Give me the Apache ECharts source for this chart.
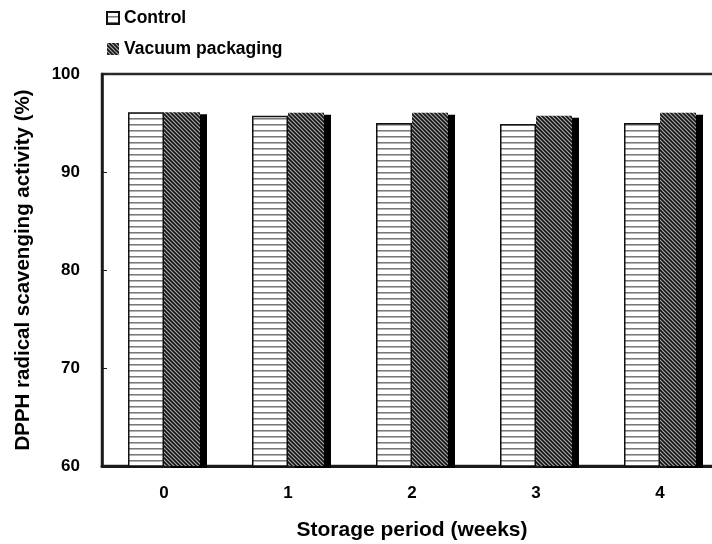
<!DOCTYPE html>
<html>
<head>
<meta charset="utf-8">
<script src="https://cdn.jsdelivr.net/npm/echarts@6/dist/echarts.min.js"></script>
<style>html,body{margin:0;padding:0;background:#fff;}#c{width:712px;height:544px;}</style>
</head>
<body>
<div id="c"></div>
<script>
var categories = ['0', '1', '2', '3', '4'];
var controlValues = [96.1, 95.75, 95.0, 94.9, 95.0];
var vacuumValues = [96.1, 96.05, 96.05, 95.75, 96.05];
var seriesNames = ['Control', 'Vacuum packaging'];
var yTicks = { min: 60, max: 100, interval: 10 };
var xTitle = 'Storage period (weeks)';
var yTitle = 'DPPH radical scavenging activity (%)';

function makeHorizontalPattern() {
  var c = document.createElement('canvas');
  c.width = 6; c.height = 6;
  var g = c.getContext('2d');
  g.fillStyle = '#ffffff'; g.fillRect(0, 0, 6, 6);
  g.fillStyle = '#7a7a7a'; g.fillRect(0, 4, 6, 1);
  g.fillStyle = '#b5b5b5'; g.fillRect(0, 5, 6, 1);
  return { image: c, repeat: 'repeat' };
}
function makeDiagonalPattern() {
  var c = document.createElement('canvas');
  c.width = 4; c.height = 4;
  var g = c.getContext('2d');
  g.fillStyle = '#444444'; g.fillRect(0, 0, 4, 4);
  g.fillStyle = '#a0a0a0';
  for (var i = 0; i < 4; i++) g.fillRect(i, i, 1, 1);
  g.fillStyle = '#111111';
  for (var j = 0; j < 4; j++) g.fillRect((j + 2) % 4, j, 1, 1);
  return { image: c, repeat: 'repeat' };
}

var chart = echarts.init(document.getElementById('c'), null, { renderer: 'canvas' });
var font = 'Liberation Sans, Arial, sans-serif';
chart.setOption({
  animation: false,
  backgroundColor: '#ffffff',
  textStyle: { fontFamily: font },
  legend: {
    orient: 'vertical',
    left: 101,
    top: 4,
    itemWidth: 12,
    itemHeight: 12,
    itemGap: 13,
    icon: 'rect',
    textStyle: { fontSize: 17.5, fontWeight: 'bold', color: '#000', fontFamily: font },
    data: seriesNames
  },
  grid: {
    left: 102, top: 74, width: 620, height: 392,
    outerBoundsMode: 'none',
    containLabel: false,
    show: true, borderColor: '#2a2a2a', borderWidth: 2.5, backgroundColor: 'transparent'
  },
  xAxis: {
    type: 'category',
    data: categories,
    axisLine: { lineStyle: { color: '#1a1a1a', width: 3 } },
    axisTick: { inside: true, length: 5, lineStyle: { color: '#1a1a1a', width: 1 } },
    axisLabel: { margin: 19, fontSize: 17, fontWeight: 'bold', color: '#000', fontFamily: font },
    name: xTitle,
    nameLocation: 'middle',
    nameGap: 54,
    nameTextStyle: { fontSize: 21, fontWeight: 'bold', color: '#000', fontFamily: font }
  },
  yAxis: {
    type: 'value',
    min: yTicks.min, max: yTicks.max, interval: yTicks.interval,
    splitLine: { show: false },
    axisLine: { show: true, lineStyle: { color: '#1a1a1a', width: 2.5 } },
    axisTick: { show: true, inside: true, length: 5, lineStyle: { color: '#1a1a1a', width: 1 } },
    axisLabel: { margin: 22, fontSize: 17, fontWeight: 'bold', color: '#000', fontFamily: font },
    name: yTitle,
    nameLocation: 'middle',
    nameGap: 68,
    nameTextStyle: { fontSize: 20.5, fontWeight: 'bold', color: '#000', fontFamily: font }
  },
  series: [
    {
      name: seriesNames[0],
      type: 'bar',
      data: controlValues,
      barWidth: 36,
      barGap: '0%',
      itemStyle: { color: makeHorizontalPattern(), borderColor: '#111', borderWidth: 1.5 }
    },
    {
      name: seriesNames[1],
      type: 'bar',
      data: vacuumValues,
      barWidth: 36,
      barGap: '0%',
      itemStyle: {
        color: makeDiagonalPattern(), borderWidth: 0,
        shadowColor: '#000', shadowBlur: 0, shadowOffsetX: 7, shadowOffsetY: 2
      }
    }
  ]
});
</script>
</body>
</html>
